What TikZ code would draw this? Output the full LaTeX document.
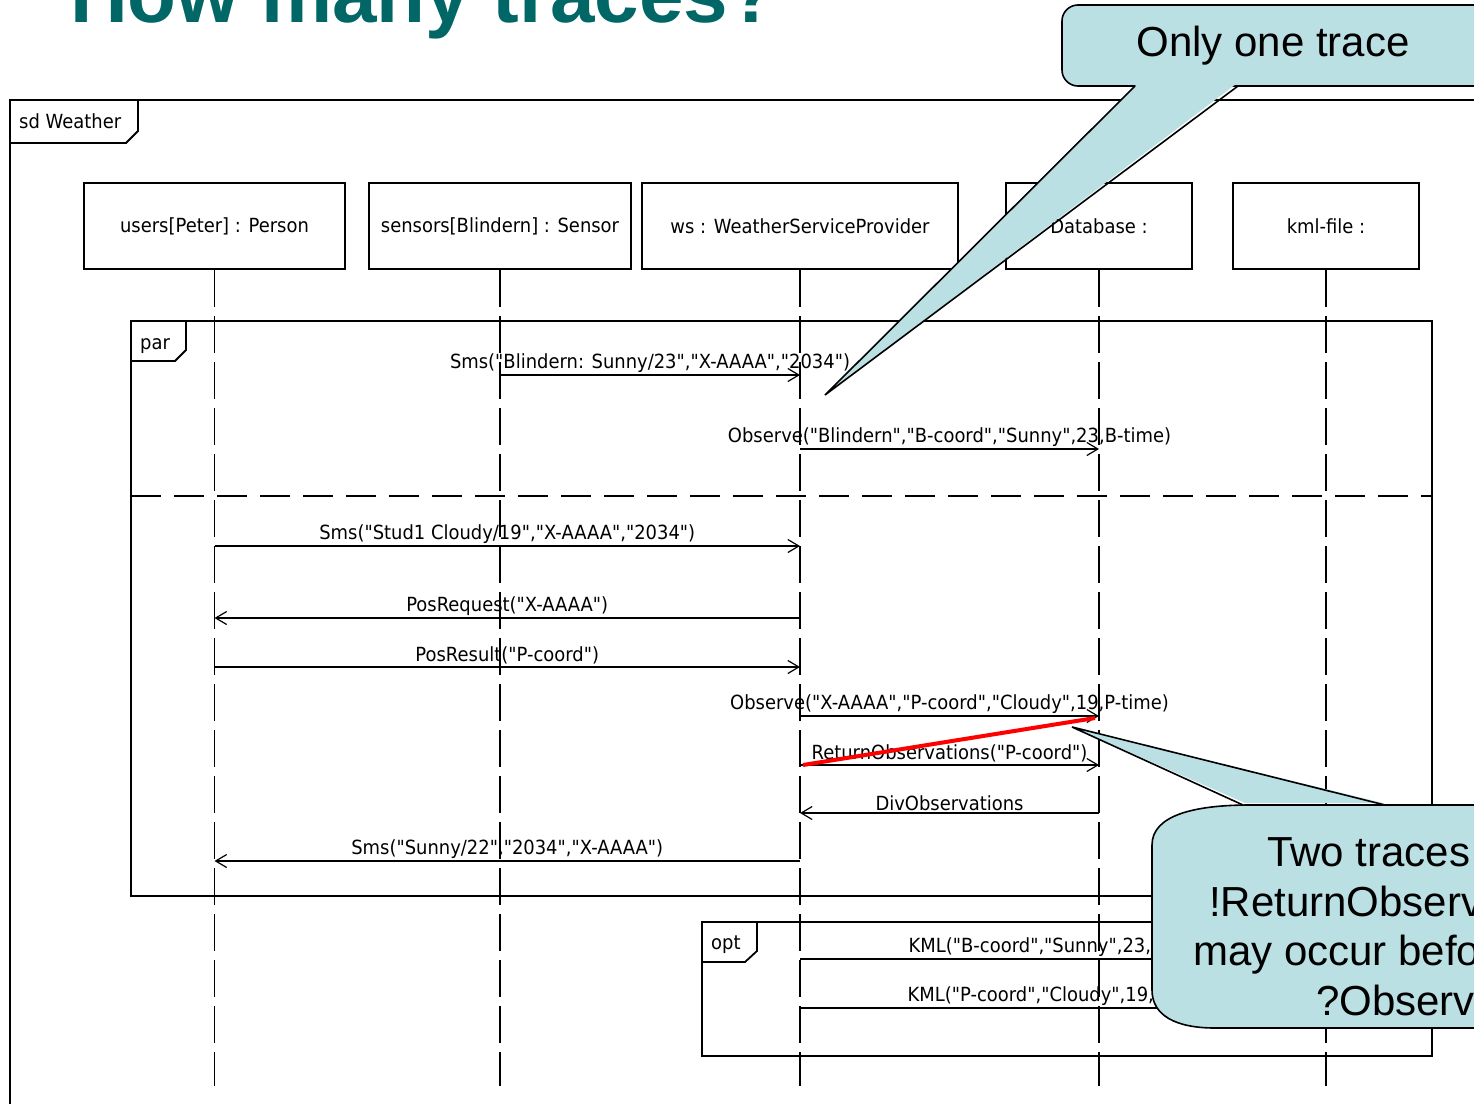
\documentclass[tikz,border=0pt]{standalone}
\usepackage{fontspec}
\setmainfont{Liberation Sans}
\newfontfamily\umlfont[FakeStretch=0.92]{DejaVu Sans}
\usepackage{tikz}
\usetikzlibrary{arrows.meta, positioning}
\definecolor{calloutfill}{RGB}{187,224,228}
\definecolor{headteal}{RGB}{0,102,102}

\begin{document}
\begin{tikzpicture}[x=1pt, y=-1pt,
font=\umlfont\fontsize{19.5}{23}\selectfont,
lifebox/.style={draw, line width=1.5pt, minimum width=186pt, minimum height=86pt, inner sep=0pt},
lifeline/.style={line width=1.5pt, dash pattern=on 37pt off 9pt},
frame/.style={line width=1.8pt},
msg/.style={line width=1.4pt, -{Straight Barb[length=11pt, width=13pt, line width=1.2pt]}},
lbl/.style={above, inner sep=2pt},
callout/.style={fill=calloutfill, draw, line width=1.6pt},
notetext/.style={font=\normalfont\fontsize{42}{49}\selectfont, inner sep=0pt}
]
\useasboundingbox (0,0) rectangle (1474,1103);
\clip (0,0) rectangle (1474,1103);

% heading
\node[anchor=base west, inner sep=0pt, text=headteal,
font=\normalfont\bfseries\fontsize{80}{92}\selectfont] (heading) at (70,22) {How many traces?};

% sd frame
\draw[frame] (1490,100) -- (10,100) -- (10,1110);
\draw[frame] (10,143) -- (126,143) -- (138,131) -- (138,100);
\node[anchor=base west, inner sep=0pt] (sdlabel) at (19,128) {sd Weather};

% lifelines
\node[lifebox, minimum width=261pt] (peter) at (214.5,226) {users[Peter] : Person};
\node[lifebox, minimum width=262pt, right=22.5pt of peter] (blindern) {sensors[Blindern] : Sensor};
\node[lifebox, minimum width=316pt, right=9.5pt of blindern] (ws) {ws : WeatherServiceProvider};
\node[lifebox, right=46.5pt of ws] (db) {Database :};
\node[lifebox, right=39.5pt of db] (kml) {kml-file :};

\draw[lifeline] (peter.south) -- ++(0,816);
\draw[lifeline] (blindern.south) -- ++(0,816);
\draw[lifeline] (ws.south) -- ++(0,816);
\draw[lifeline] (db.south) -- ++(0,816);
\draw[lifeline] (kml.south) -- ++(0,816);

% par fragment
\draw[frame] (131,321) rectangle (1432,896);
\draw[frame] (131,361) -- (175,361) -- (186,350) -- (186,321);
\node[anchor=base west, inner sep=0pt] (parlabel) at (140,349) {par};
\draw[frame, dash pattern=on 30pt off 13pt] (131,496) -- (1432,496);

% opt fragment
\draw[frame] (702,922) rectangle (1432,1056);
\draw[frame] (702,962) -- (745,962) -- (757,951) -- (757,922);
\node[anchor=base west, inner sep=0pt] (optlabel) at (711,949) {opt};

% messages, first operand
\draw[msg] (blindern |- 0,375) -- node[lbl] {Sms("Blindern: Sunny/23","X-AAAA","2034")} (ws |- 0,375);
\draw[msg] (ws |- 0,449) -- node[lbl] {Observe("Blindern","B-coord","Sunny",23,B-time)} (db |- 0,449);

% messages, second operand
\draw[msg] (peter |- 0,546) -- node[lbl] {Sms("Stud1 Cloudy/19","X-AAAA","2034")} (ws |- 0,546);
\draw[msg] (ws |- 0,618) -- node[lbl] {PosRequest("X-AAAA")} (peter |- 0,618);
\draw[msg] (peter |- 0,667) -- node[lbl] {PosResult("P-coord")} (ws |- 0,667);
\draw[msg] (ws |- 0,716) -- node[lbl] {Observe("X-AAAA","P-coord","Cloudy",19,P-time)} (db |- 0,716);
\draw[msg] (ws |- 0,765) -- node[lbl] {ReturnObservations("P-coord")} (db |- 0,765);
\draw[msg] (db |- 0,813) -- node[lbl] {DivObservations} (ws |- 0,813);
\draw[msg] (ws |- 0,861) -- node[lbl] {Sms("Sunny/22","2034","X-AAAA")} (peter |- 0,861);

% kml output
\draw[msg] (ws |- 0,959) -- node[lbl] {KML("B-coord","Sunny",23,B-time)} (kml |- 0,959);
\draw[msg] (ws |- 0,1008) -- node[lbl] {KML("P-coord","Cloudy",19,P-time)} (kml |- 0,1008);

% swapped order
\draw[red, line width=4pt] (803,765) -- (1095,718);

% callouts
\draw[callout, rounded corners=16pt] (1062,5) rectangle (1500,86);
\fill[calloutfill] (1137,84) -- (825,395) -- (1236,84) -- cycle;
\draw[line width=1.6pt] (1135,86) -- (825,395) -- (1238,86);
\node[notetext] (onetrace) at (1273,46) {Only one trace};

\draw[callout] (1152,990) -- (1152,845) .. controls (1152,815) and (1195,805) .. (1250,805)
  -- (1500,805) -- (1500,1028) -- (1215,1028) .. controls (1175,1028) and (1152,1015) .. cycle;
\fill[calloutfill] (1245,803) -- (1072,727) -- (1383,803) -- cycle;
\draw[line width=1.6pt] (1243,805) -- (1072,727) -- (1385,805);
\node[notetext, anchor=base west] (twotraces) at (1267,866) {Two traces};
\node[notetext, anchor=base west] (retobs) at (1209,916) {!ReturnObservations};
\node[notetext, anchor=base west] (before) at (1193,965) {may occur before};
\node[notetext, anchor=base west] (observe) at (1316,1015) {?Observe};

\end{tikzpicture}
\end{document}
